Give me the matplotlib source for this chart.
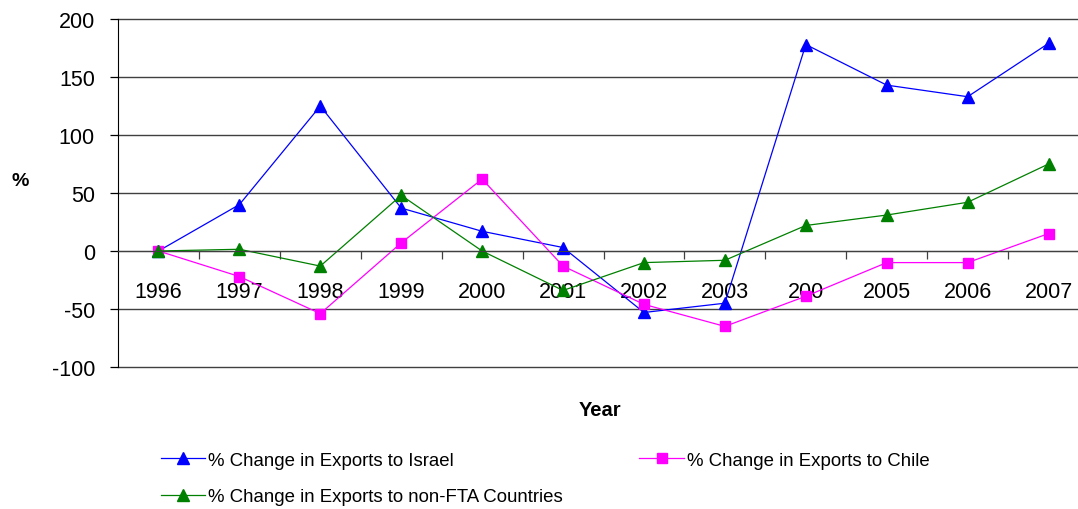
import matplotlib.pyplot as plt

plt.rcParams['font.family'] = ['Liberation Sans', 'DejaVu Sans']
plt.rcParams['axes.unicode_minus'] = False

# Data
years = ["1996", "1997", "1998", "1999", "2000", "2001",
         "2002", "2003", "200", "2005", "2006", "2007"]
israel = [0, 40, 125, 37, 17, 3, -53, -45, 178, 143, 133, 179]
chile = [0, -22, -54, 7, 62, -13, -46, -65, -39, -10, -10, 15]
non_fta = [0, 1.5, -13, 48, 0, -34, -10, -8, 22, 31, 42, 75]

fig = plt.figure(figsize=(10.78, 5.10), dpi=100)
ax = fig.add_axes([118 / 1078, 142 / 510, 971 / 1078, 348 / 510])

x = range(len(years))
l1, = ax.plot(x, israel, color="#0000FF", lw=0.9, marker="^", ms=8,
              label="% Change in Exports to Israel")
l2, = ax.plot(x, chile, color="#FF00FF", lw=0.9, marker="s", ms=6.5,
              label="% Change in Exports to Chile")
l3, = ax.plot(x, non_fta, color="#008000", lw=0.9, marker="^", ms=8,
              label="% Change in Exports to non-FTA Countries")

ax.set_xlim(-0.5, len(years) - 0.5)
ax.set_ylim(-100, 200)
ax.set_yticks(range(-100, 201, 50))
ax.yaxis.grid(True, color="#404040", lw=1.0)
for gl in ax.get_ygridlines():
    gl.set_clip_on(False)
ax.set_axisbelow(True)

# x axis crosses at zero, tick marks at category boundaries
ax.spines["bottom"].set_position(("data", 0))
ax.spines["bottom"].set_color("#404040")
ax.spines["top"].set_visible(False)
ax.spines["right"].set_visible(False)
ax.spines["left"].set_color("black")
ax.set_xticks(list(x))
ax.set_xticklabels(years)
ax.set_xticks([i + 0.5 for i in range(len(years))], minor=True)
ax.tick_params(axis="x", which="major", length=0, pad=21.5, labelsize=15.5)
ax.tick_params(axis="x", which="minor", length=5.8, width=0.9, direction="out",
               color="#404040")
ax.tick_params(axis="y", length=5.8, width=0.9, pad=10.8, labelsize=15.5)

fig.text(20 / 1078, 1 - 182 / 510, "%", fontsize=14, fontweight="bold",
         ha="center", va="center")
fig.text(600 / 1078, 1 - 411 / 510, "Year", fontsize=14.5, fontweight="bold",
         ha="center", va="center")

fig.legend(handles=[l1, l3, l2], ncol=2, loc="upper left",
           bbox_to_anchor=(144 / 1078, 1 - 436 / 510), frameon=False,
           fontsize=13.4, handlelength=2.4, handletextpad=0.15,
           columnspacing=4.1, labelspacing=1.05)

fig.savefig("out.png", dpi=100)
